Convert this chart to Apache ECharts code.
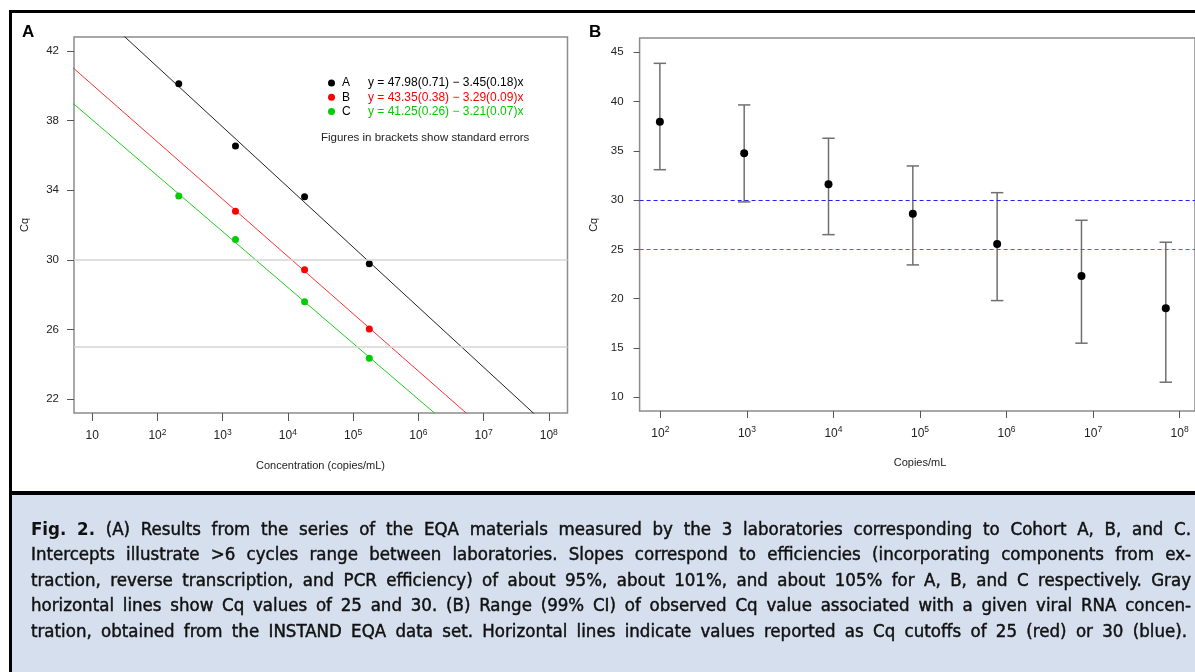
<!DOCTYPE html>
<html><head><meta charset="utf-8">
<script src="https://cdn.jsdelivr.net/npm/echarts@6/dist/echarts.min.js"></script>
<style>html,body{margin:0;padding:0;background:#fff}#c{width:1195px;height:672px}</style>
</head><body><div id="c"></div>
<script>
// ---------- Panel A data ----------
const concA = [212, 1570, 18000, 177000];
const cqLabA = [40.12, 36.54, 33.63, 29.78];
const concB = [1570, 18000, 177000];
const cqLabB = [32.79, 29.43, 26.02];
const concC = [212, 1570, 18000, 177000];
const cqLabC = [33.67, 31.16, 27.59, 24.34];
// fitted regression lines (end points, from the legend equations)
const fitA = [[1, 47.98], [1e9, 16.93]];
const fitB = [[1, 43.35], [1e9, 13.74]];
const fitC = [[1, 41.25], [1e9, 12.36]];
const labNames = ['A', 'B', 'C'];
const equations = {
  A: 'y = 47.98(0.71) \u2212 3.45(0.18)x',
  B: 'y = 43.35(0.38) \u2212 3.29(0.09)x',
  C: 'y = 41.25(0.26) \u2212 3.21(0.07)x'
};
const greyLinesA = [25, 30];
// ---------- Panel B data ----------
const copiesB = [1e2, 1e3, 1e4, 1e5, 1e6, 1e7, 1e8];
const meanB = [37.96, 34.76, 31.61, 28.63, 25.56, 22.31, 19.04];
const lowB  = [33.09, 29.82, 26.50, 23.43, 19.81, 15.49, 11.53];
const highB = [43.88, 39.66, 36.28, 33.47, 30.76, 27.96, 25.73];
const cutoffBlue = 30, cutoffRed = 25;
// ---------- caption ----------
const captionLines = [
  'Fig. 2. (A) Results from the series of the EQA materials measured by the 3 laboratories corresponding to Cohort A, B, and C.',
  'Intercepts illustrate >6 cycles range between laboratories. Slopes correspond to efficiencies (incorporating components from ex-',
  'traction, reverse transcription, and PCR efficiency) of about 95%, about 101%, and about 105% for A, B, and C respectively. Gray',
  'horizontal lines show Cq values of 25 and 30. (B) Range (99% CI) of observed Cq value associated with a given viral RNA concen-',
  'tration, obtained from the INSTAND EQA data set. Horizontal lines indicate values reported as Cq cutoffs of 25 (red) or 30 (blue).'
];

const FONT = '"Liberation Sans", Arial, Helvetica, sans-serif';
const colA = '#000000', colB = '#ff0000', colC = '#00cd00';

function powLabel(v) {
  const e = v >= 9 ? Math.round(Math.log10(v)) : Math.round(v);
  return e === 1 ? '{b|10}' : '{b|10}{s|' + e + '}';
}
const powRich = {
  b: { fontSize: 12, lineHeight: 16, color: '#222', fontFamily: FONT },
  s: { fontSize: 8.5, verticalAlign: 'top', color: '#222', fontFamily: FONT }
};

const chart = echarts.init(document.getElementById('c'), null, { renderer: 'canvas' });

// caption graphic (justified words)
const capFam = '"DejaVu Sans Condensed", "Liberation Sans Narrow", "Noto Sans", sans-serif';
const mctx = document.createElement('canvas').getContext('2d');
mctx.font = '17px ' + capFam;
const natW = captionLines.slice(0, 4).map(l => mctx.measureText(l).width);
const capSize = Math.min(18.5, 17 * 1150 / Math.max.apply(null, natW));
const capFont = capSize.toFixed(2) + 'px ' + capFam;
const capFontB = 'bold ' + capFont;
const capEls = [];
const capBase = [535.7, 561.3, 586.9, 612.5, 638.1];
captionLines.forEach((line, li) => {
  const words = line.split(' ');
  const fonts = words.map((w, wi) => (li === 0 && wi < 2) ? capFontB : capFont);
  const widths = words.map((w, wi) => { mctx.font = fonts[wi]; return mctx.measureText(w).width; });
  const total = widths.reduce((a, b) => a + b, 0);
  const right = li === 4 ? 1187 : 1191;
  const gap = (right - 31 - total) / (words.length - 1);
  let x = 31;
  words.forEach((w, wi) => {
    const bold = fonts[wi] === capFontB;
    capEls.push({ type: 'text', x: x, y: capBase[li] - 6, silent: true,
      style: { text: w, font: fonts[wi], fill: '#111', stroke: bold ? null : '#111', lineWidth: bold ? 0 : 0.45,
               textAlign: 'left', textVerticalAlign: 'middle' } });
    x += widths[wi] + gap;
  });
});

const option = {
  animation: false,
  backgroundColor: '#ffffff',
  textStyle: { fontFamily: FONT },
  grid: [
    { left: 74, top: 37, width: 493.5, height: 376, show: true, borderColor: '#8c8c8c', borderWidth: 1.5, backgroundColor: 'transparent' },
    { left: 92.2, top: 51, width: 456.6, height: 348, show: false },
    { left: 639.6, top: 38, width: 570, height: 373, show: true, borderColor: '#8c8c8c', borderWidth: 1.5, backgroundColor: 'transparent' },
    { left: 660.4, top: 52.3, width: 519.2, height: 345, show: false }
  ],
  xAxis: [
    { gridIndex: 0, type: 'log', logBase: 10, min: 5.248, max: 1.936e8, show: false },
    { gridIndex: 1, type: 'log', logBase: 10, min: 10, max: 1e8, position: 'bottom', offset: 14,
      axisLine: { show: false }, splitLine: { show: false }, minorTick: { show: false },
      axisTick: { show: true, length: 8, lineStyle: { color: '#555', width: 1 } },
      axisLabel: { formatter: powLabel, rich: powRich, margin: 15 },
      name: 'Concentration (copies/mL)', nameLocation: 'middle', nameGap: 47,
      nameTextStyle: { fontSize: 11, color: '#222', fontFamily: FONT } },
    { gridIndex: 2, type: 'log', logBase: 10, min: 57.5, max: 1.738e8 * Math.pow(10, (570 - 560.8) / 86.5), show: false },
    { gridIndex: 3, type: 'log', logBase: 10, min: 100, max: 1e8, position: 'bottom', offset: 13.7,
      axisLine: { show: false }, splitLine: { show: false }, minorTick: { show: false },
      axisTick: { show: true, length: 7, lineStyle: { color: '#555', width: 1 } },
      axisLabel: { formatter: powLabel, rich: powRich, margin: 14.5 },
      name: 'Copies/mL', nameLocation: 'middle', nameGap: 46,
      nameTextStyle: { fontSize: 11, color: '#222', fontFamily: FONT } }
  ],
  yAxis: [
    { gridIndex: 0, type: 'value', min: 21.2, max: 42.8, show: false },
    { gridIndex: 1, type: 'value', min: 22, max: 42, interval: 4, position: 'left', offset: 18.2,
      axisLine: { show: false }, splitLine: { show: false },
      axisTick: { show: true, length: 7, lineStyle: { color: '#555', width: 1 } },
      axisLabel: { fontSize: 11.5, color: '#222', margin: 15 },
      name: 'Cq', nameLocation: 'middle', nameRotate: 90, nameGap: 44,
      nameTextStyle: { fontSize: 11, color: '#222' } },
    { gridIndex: 2, type: 'value', min: 8.61, max: 46.45, show: false },
    { gridIndex: 3, type: 'value', min: 10, max: 45, interval: 5, position: 'left', offset: 20.8,
      axisLine: { show: false }, splitLine: { show: false },
      axisTick: { show: true, length: 6, lineStyle: { color: '#555', width: 1 } },
      axisLabel: { fontSize: 11.5, color: '#222', margin: 16 },
      name: 'Cq', nameLocation: 'middle', nameRotate: 90, nameGap: 40,
      nameTextStyle: { fontSize: 11, color: '#222' } }
  ],
  legend: {
    data: labNames, orient: 'vertical', left: 328, top: 76, padding: 0, itemWidth: 7, itemHeight: 7, itemGap: 0,
    icon: 'circle', selectedMode: false,
    formatter: n => '{n|' + n + '}{e' + n + '|' + equations[n] + '}',
    textStyle: {
      fontSize: 12, lineHeight: 14.2, color: '#000', fontFamily: FONT,
      rich: {
        n: { width: 26, fontSize: 12, color: '#000', fontFamily: FONT, padding: [0, 0, 0, 2] },
        eA: { fontSize: 12, color: colA, fontFamily: FONT },
        eB: { fontSize: 12, color: colB, fontFamily: FONT },
        eC: { fontSize: 12, color: colC, fontFamily: FONT }
      }
    }
  },
  series: [
    { name: 'fitA', type: 'line', xAxisIndex: 0, yAxisIndex: 0, data: fitA, showSymbol: false, silent: true,
      lineStyle: { color: '#222', width: 1 }, z: 2,
      markLine: { silent: true, symbol: ['none', 'none'], label: { show: false },
        lineStyle: { color: '#d4d4d4', width: 1.5, type: 'solid' },
        data: greyLinesA.map(v => ({ yAxis: v })) } },
    { name: 'fitB', type: 'line', xAxisIndex: 0, yAxisIndex: 0, data: fitB, showSymbol: false, silent: true,
      lineStyle: { color: '#ff3030', width: 1 }, z: 2 },
    { name: 'fitC', type: 'line', xAxisIndex: 0, yAxisIndex: 0, data: fitC, showSymbol: false, silent: true,
      lineStyle: { color: '#20cc20', width: 1 }, z: 2 },
    { name: 'A', type: 'scatter', xAxisIndex: 0, yAxisIndex: 0, symbolSize: 7, itemStyle: { color: colA, opacity: 1 }, z: 3,
      data: concA.map((c, i) => [c, cqLabA[i]]) },
    { name: 'B', type: 'scatter', xAxisIndex: 0, yAxisIndex: 0, symbolSize: 7, itemStyle: { color: colB, opacity: 1 }, z: 3,
      data: concB.map((c, i) => [c, cqLabB[i]]) },
    { name: 'C', type: 'scatter', xAxisIndex: 0, yAxisIndex: 0, symbolSize: 7, itemStyle: { color: colC, opacity: 1 }, z: 3,
      data: concC.map((c, i) => [c, cqLabC[i]]) },
    { name: 'range', type: 'custom', xAxisIndex: 2, yAxisIndex: 2, silent: true, z: 2,
      data: copiesB.map((c, i) => [c, lowB[i], highB[i]]),
      encode: { x: 0, y: [1, 2] },
      renderItem: function (params, api) {
        const x = api.value(0);
        const lo = api.coord([x, api.value(1)]);
        const hi = api.coord([x, api.value(2)]);
        const w = 6.2;
        const st = { stroke: '#707070', lineWidth: 1.5 };
        return { type: 'group', children: [
          { type: 'line', shape: { x1: lo[0], y1: lo[1], x2: hi[0], y2: hi[1] }, style: st },
          { type: 'line', shape: { x1: lo[0] - w, y1: lo[1], x2: lo[0] + w, y2: lo[1] }, style: st },
          { type: 'line', shape: { x1: hi[0] - w, y1: hi[1], x2: hi[0] + w, y2: hi[1] }, style: st }
        ] };
      } },
    { name: 'mean', type: 'scatter', xAxisIndex: 2, yAxisIndex: 2, symbolSize: 8, itemStyle: { color: '#000', opacity: 1 }, z: 4,
      data: copiesB.map((c, i) => [c, meanB[i]]),
      markLine: { silent: true, symbol: ['none', 'none'], label: { show: false },
        lineStyle: { width: 1.2, type: [4, 3] },
        data: [ { yAxis: cutoffBlue, lineStyle: { color: '#1f1fff' } },
                { yAxis: cutoffRed, lineStyle: { color: '#ff2a2a' } } ] } }
  ],
  graphic: { elements: [
    { type: 'rect', silent: true, shape: { x: 12, y: 495, width: 1183, height: 177 }, style: { fill: '#d6dfed' } },
    { type: 'rect', silent: true, shape: { x: 9, y: 10, width: 1186, height: 3 }, style: { fill: '#000' } },
    { type: 'rect', silent: true, shape: { x: 9, y: 10, width: 3, height: 662 }, style: { fill: '#000' } },
    { type: 'rect', silent: true, shape: { x: 9, y: 491, width: 1186, height: 4 }, style: { fill: '#000' } },
    { type: 'text', x: 22, y: 32, silent: true, style: { text: 'A', font: 'bold 17px ' + FONT, fill: '#000', textVerticalAlign: 'middle' } },
    { type: 'text', x: 589, y: 32, silent: true, style: { text: 'B', font: 'bold 17px ' + FONT, fill: '#000', textVerticalAlign: 'middle' } },
    { type: 'text', x: 321, y: 137.8, silent: true, style: { text: 'Figures in brackets show standard errors', font: '11.5px ' + FONT, fill: '#222', textVerticalAlign: 'middle' } }
  ].concat(capEls) }
};
chart.setOption(option);
</script>
</body></html>
